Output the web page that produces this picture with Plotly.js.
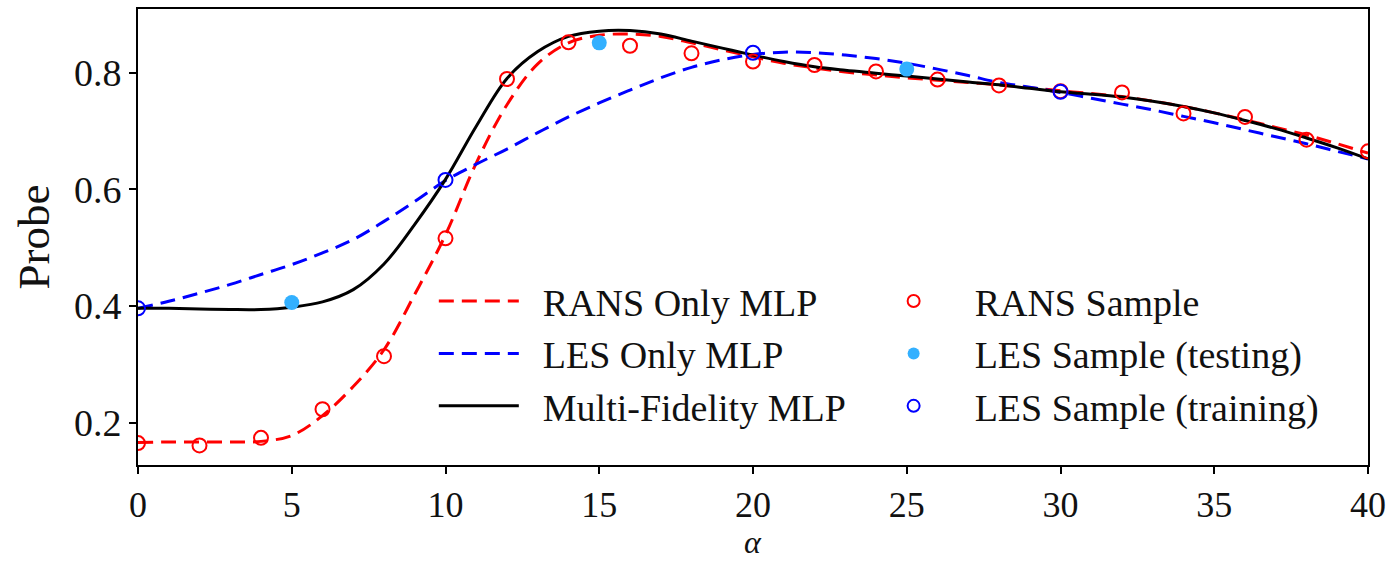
<!DOCTYPE html>
<html>
<head>
<meta charset="utf-8">
<script src="https://cdn.plot.ly/plotly-3.0.1.min.js"></script>
<style>html,body{margin:0;padding:0;background:#fff;}#chart{width:1393px;height:563px;}</style>
</head>
<body>
<div id="chart"></div>
<script>
// ---- data ----
const alphaGrid = [0,1,2,3,4,5,6,7,8,9,10,11,12,13,14,15,16,17,18,19,20,21,22,23,24,25,26,27,28,29,30,31,32,33,34,35,36,37,38,39,40];
const ransMLP = [0.166,0.167,0.167,0.167,0.168,0.178,0.212,0.262,0.325,0.420,0.522,0.645,0.745,0.815,0.851,0.864,0.866,0.862,0.851,0.839,0.827,0.816,0.808,0.801,0.796,0.791,0.787,0.783,0.779,0.774,0.769,0.764,0.759,0.751,0.742,0.731,0.719,0.706,0.693,0.678,0.662];
const lesMLP = [0.396,0.408,0.422,0.437,0.454,0.471,0.491,0.514,0.545,0.579,0.615,0.643,0.669,0.697,0.724,0.748,0.770,0.791,0.809,0.822,0.831,0.835,0.834,0.830,0.824,0.816,0.806,0.795,0.783,0.775,0.766,0.756,0.746,0.736,0.725,0.714,0.702,0.690,0.678,0.665,0.652];
const mfMLP = [0.396,0.396,0.395,0.394,0.394,0.398,0.407,0.428,0.472,0.540,0.617,0.708,0.790,0.836,0.862,0.871,0.872,0.866,0.854,0.842,0.830,0.819,0.810,0.804,0.799,0.794,0.789,0.784,0.779,0.773,0.767,0.763,0.758,0.751,0.742,0.731,0.718,0.704,0.688,0.671,0.652];

const ransSampleX = [0,2,4,6,8,10,12,14,16,18,20,22,24,26,28,30,32,34,36,38,40];
const ransSampleY = [0.165,0.161,0.174,0.223,0.314,0.516,0.789,0.852,0.846,0.833,0.819,0.813,0.802,0.788,0.778,0.768,0.766,0.730,0.724,0.685,0.665];

const lesTestX = [5,15,25];
const lesTestY = [0.406,0.851,0.806];

const lesTrainX = [0,10,20,30];
const lesTrainY = [0.396,0.616,0.834,0.767];

const seriesNames = ['RANS Only MLP', 'LES Only MLP', 'Multi-Fidelity MLP',
                     'RANS Sample', 'LES Sample (testing)', 'LES Sample (training)'];
const xTitle = 'α';
const yTitle = 'Probe';

const FONT = "'Liberation Serif', 'DejaVu Serif', serif";
const TXT = '#111111';
const PAD = '&nbsp;&nbsp;';

const traces = [
  {x: alphaGrid, y: ransMLP, mode: 'lines', name: PAD + seriesNames[0], legend: 'legend', legendgroup: 'a',
   line: {color: '#ff0000', width: 3, dash: '15px,8px', shape: 'spline'}},
  {x: alphaGrid, y: lesMLP, mode: 'lines', name: PAD + seriesNames[1], legend: 'legend', legendgroup: 'b',
   line: {color: '#0000ff', width: 3, dash: '15px,8px', shape: 'spline'}},
  {x: alphaGrid, y: mfMLP, mode: 'lines', name: PAD + seriesNames[2], legend: 'legend', legendgroup: 'c',
   line: {color: '#000000', width: 3, shape: 'spline'}},
  {x: ransSampleX, y: ransSampleY, mode: 'markers', name: seriesNames[3], legend: 'legend2', legendgroup: 'd',
   marker: {symbol: 'circle-open', size: 14, color: '#ff0000', line: {width: 2, color: '#ff0000'}}},
  {x: lesTestX, y: lesTestY, mode: 'markers', name: seriesNames[4], legend: 'legend2', legendgroup: 'e',
   marker: {symbol: 'circle', size: 15, color: '#33b0ff'}},
  {x: lesTrainX, y: lesTrainY, mode: 'markers', name: seriesNames[5], legend: 'legend2', legendgroup: 'f',
   marker: {symbol: 'circle-open', size: 14, color: '#0000ff', line: {width: 2, color: '#0000ff'}}}
];

const layout = {
  width: 1393, height: 563,
  margin: {l: 138, r: 25, t: 9, b: 98},
  paper_bgcolor: '#ffffff', plot_bgcolor: '#ffffff',
  font: {family: FONT, size: 38, color: TXT},
  showlegend: true,
  xaxis: {
    range: [0, 40], tickvals: [0,5,10,15,20,25,30,35,40],
    showgrid: false, zeroline: false,
    showline: true, linecolor: '#000', linewidth: 2, mirror: true,
    ticks: 'outside', ticklen: 7, tickwidth: 2, tickcolor: '#000',
    tickfont: {family: FONT, size: 36, color: TXT}
  },
  yaxis: {
    range: [0.1275, 0.909], tickvals: [0.2,0.4,0.6,0.8], ticktext: ['0.2','0.4','0.6','0.8'],
    showgrid: false, zeroline: false,
    showline: true, linecolor: '#000', linewidth: 2, mirror: true,
    ticks: 'outside', ticklen: 7, tickwidth: 2, tickcolor: '#000',
    tickfont: {family: FONT, size: 38, color: TXT},
    title: {text: yTitle, font: {family: FONT, size: 45, color: TXT}, standoff: 10}
  },
  annotations: [
    {text: '<i>' + xTitle + '</i>', xref: 'paper', yref: 'paper', x: 0.5, y: -0.2132,
     xanchor: 'center', yanchor: 'bottom', showarrow: false,
     font: {family: FONT, size: 32, color: TXT}}
  ],
  legend: {
    x: 0.2405, y: 0.428, xanchor: 'left', yanchor: 'top',
    bgcolor: 'rgba(0,0,0,0)', borderwidth: 0,
    font: {family: FONT, size: 38, color: TXT},
    itemwidth: 80, tracegroupgap: 0, itemclick: false
  },
  legend2: {
    x: 0.581, y: 0.428, xanchor: 'left', yanchor: 'top',
    bgcolor: 'rgba(0,0,0,0)', borderwidth: 0,
    font: {family: FONT, size: 38, color: TXT},
    itemwidth: 112, itemsizing: 'constant', tracegroupgap: 0, itemclick: false
  }
};

Plotly.newPlot('chart', traces, layout, {displayModeBar: false, staticPlot: true});
</script>
</body>
</html>
